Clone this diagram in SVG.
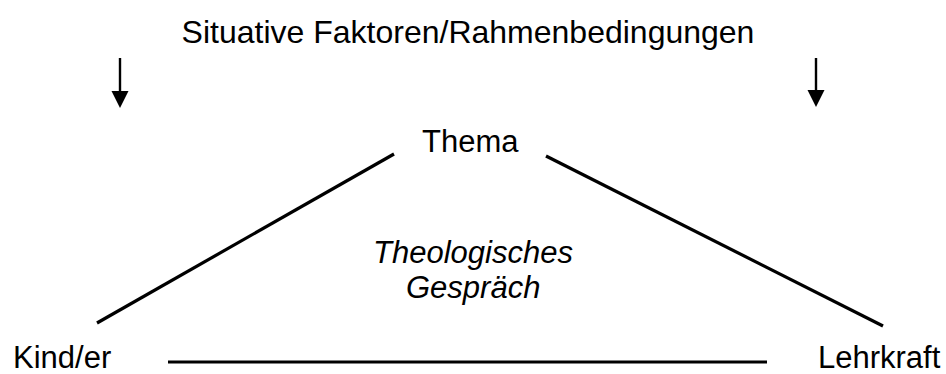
<svg xmlns="http://www.w3.org/2000/svg" width="946" height="374" viewBox="0 0 946 374">
<style>
text{font-family:"Liberation Sans",Arial,sans-serif;font-size:31px;fill:#000}
.it{font-style:italic}
.ln{stroke:#000;stroke-width:3.2;fill:none}
.sh{stroke:#000;stroke-width:2.4;fill:none}
</style>
<rect width="946" height="374" fill="#fff"/>
<g id="title"><text x="468" y="43" text-anchor="middle" style="font-size:32px">Situative Faktoren/Rahmenbedingungen</text></g>
<g id="thema"><text x="422" y="152">Thema</text></g>
<g id="gespraech"><text class="it" x="373" y="263">Theologisches</text><text class="it" x="406" y="298">Gespräch</text></g>
<g id="kind"><text x="13" y="367.5">Kind/er</text></g>
<g id="lehrkraft"><text x="818" y="367.5">Lehrkraft</text></g>
<g id="connectors">
<line class="sh" x1="120" y1="58" x2="120" y2="93"/>
<polygon points="111.5,91 128.5,91 120,108"/>
<line class="sh" x1="816" y1="58" x2="816" y2="92"/>
<polygon points="807.5,90 824.5,90 816,107"/>
<line class="ln" x1="97" y1="323" x2="394" y2="154"/>
<line class="ln" x1="546" y1="156" x2="883" y2="326"/>
<line class="ln" x1="168" y1="362" x2="767" y2="362"/>
</g>
</svg>
